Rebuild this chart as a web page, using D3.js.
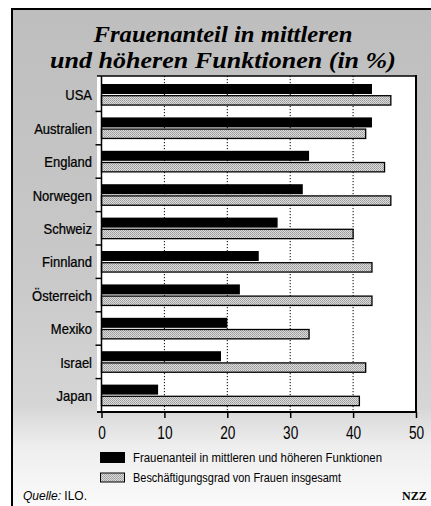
<!DOCTYPE html>
<html>
<head>
<meta charset="utf-8">
<script src="https://cdn.jsdelivr.net/npm/d3@7"></script>
<style>
html,body{margin:0;padding:0;background:#fff;}
svg{display:block;}
</style>
</head>
<body>
<svg id="chart" width="431" height="506"></svg>
<script>
const countries = ["USA","Australien","England","Norwegen","Schweiz","Finnland","Österreich","Mexiko","Israel","Japan"];
const fuehrung = [43,43,33,32,28,25,22,20,19,9];
const gesamt = [46,42,45,46,40,43,43,33,42,41];
const xTicks = [0,10,20,30,40,50];
const titleLines = ["Frauenanteil in mittleren","und höheren Funktionen (in %)"];
const legendLabels = ["Frauenanteil in mittleren und höheren Funktionen","Beschäftigungsgrad von Frauen insgesamt"];

const svg = d3.select("#chart");
const sans = "'Liberation Sans',Arial,Helvetica,sans-serif";
const serif = "'Liberation Serif','Times New Roman',serif";

const defs = svg.append("defs");
const grad = defs.append("linearGradient").attr("id","bg").attr("x1",0).attr("y1",0).attr("x2",0).attr("y2",1);
[[0,"#bebebe"],[0.55,"#c9c9c9"],[0.8,"#d6d6d6"],[0.88,"#eeeeee"],[1,"#fafafa"]].forEach(s=>grad.append("stop").attr("offset",s[0]).attr("stop-color",s[1]));
const pat = defs.append("pattern").attr("id","dots").attr("width",2).attr("height",2).attr("patternUnits","userSpaceOnUse");
pat.append("rect").attr("width",2).attr("height",2).attr("fill","#dcdcdc");
pat.append("rect").attr("width",1).attr("height",1).attr("fill","#9a9a9a");
pat.append("rect").attr("x",1).attr("y",1).attr("width",1).attr("height",1).attr("fill","#a8a8a8");

// background and frame
svg.append("rect").attr("x",12).attr("y",9).attr("width",419).attr("height",497).attr("fill","url(#bg)");
svg.append("line").attr("x1",12).attr("x2",12).attr("y1",8).attr("y2",506).attr("stroke","#000").attr("stroke-width",2);
svg.append("line").attr("x1",11).attr("x2",431).attr("y1",9).attr("y2",9).attr("stroke","#000").attr("stroke-width",2);

// title
const titleWidths = [259,346];
svg.append("g").selectAll("text").data(titleLines).join("text")
  .attr("text-anchor","middle")
  .attr("font-family",serif).attr("font-weight","bold").attr("font-style","italic").attr("font-size",23.5)
  .attr("textLength",(d,i)=>titleWidths[i]).attr("lengthAdjust","spacingAndGlyphs")
  .attr("x",223).attr("y",(d,i)=>42+i*26).text(d=>d);

// scales
const x = d3.scaleLinear().domain([0,50]).range([101.5,416]);
const y = d3.scaleBand().domain(countries).range([78,412]).paddingInner(0).paddingOuter(0);
const bw = y.bandwidth();

// plot area
svg.append("rect").attr("x",97).attr("y",76).attr("width",x(50)-97).attr("height",412-76).attr("fill","#fff");

// gridlines
svg.append("g").selectAll("line").data(xTicks.filter(d=>d>0&&d<50)).join("line")
  .attr("x1",d=>x(d)).attr("x2",d=>x(d)).attr("y1",76).attr("y2",412)
  .attr("stroke","#000").attr("stroke-width",1).attr("stroke-dasharray","1.2,1.8");

// bars
const rows = countries.map((c,i)=>({c, a:fuehrung[i], b:gesamt[i]}));
svg.append("g").selectAll("rect").data(rows).join("rect")
  .attr("x",x(0)).attr("y",d=>y(d.c)+bw*0.18).attr("width",d=>x(d.a)-x(0)).attr("height",bw*0.3)
  .attr("fill","#000");
svg.append("g").selectAll("rect").data(rows).join("rect")
  .attr("x",x(0)).attr("y",d=>y(d.c)+bw*0.53).attr("width",d=>x(d.b)-x(0)).attr("height",bw*0.28)
  .attr("fill","url(#dots)").attr("stroke","#000").attr("stroke-width",1.3);

// frame lines of plot
svg.append("line").attr("x1",97).attr("x2",x(50)+1).attr("y1",76).attr("y2",76).attr("stroke","#000").attr("stroke-width",1.5);
svg.append("line").attr("x1",x(50)).attr("x2",x(50)).attr("y1",75).attr("y2",412).attr("stroke","#000").attr("stroke-width",2);

// x axis
const xAxis = d3.axisBottom(x).tickValues(xTicks).tickSize(6).tickPadding(6).tickFormat(d3.format("d"));
const gx = svg.append("g").attr("transform","translate(0,412)").call(xAxis);
gx.select(".domain").attr("d",`M97,0H${x(50)+1}`).attr("stroke","#000").attr("stroke-width",2);
gx.selectAll(".tick line").attr("stroke","#000").attr("stroke-width",1.5);
gx.selectAll("text").attr("font-family",sans).attr("font-size",19).attr("fill","#000")
  .attr("y",0).attr("dy",27).attr("transform","scale(0.72,1)");

// y axis
const yAxis = d3.axisLeft(y).tickSize(0).tickPadding(9);
const gy = svg.append("g").attr("transform",`translate(${x(0)},0)`).call(yAxis);
gy.select(".domain").attr("d","M0,76V413").attr("stroke","#000").attr("stroke-width",1.5);
gy.selectAll("text").attr("font-family",sans).attr("font-size",14).attr("fill","#000")
  .attr("x",-9.5/0.93).attr("dy","0.4em").attr("transform","scale(0.93,1)")
  .attr("stroke","#000").attr("stroke-width",0.25);
// band boundary ticks
svg.append("g").selectAll("line").data(countries.slice(1)).join("line")
  .attr("x1",x(0)-6).attr("x2",x(0)).attr("y1",d=>y(d)).attr("y2",d=>y(d))
  .attr("stroke","#000").attr("stroke-width",1.5);

// legend
const lg = svg.append("g");
lg.append("rect").attr("x",100).attr("y",452).attr("width",25).attr("height",11).attr("fill","#000");
lg.append("rect").attr("x",100.5).attr("y",473).attr("width",24).attr("height",9).attr("fill","url(#dots)").attr("stroke","#000").attr("stroke-width",1);
const legendWidths = [249,208];
lg.selectAll("text").data(legendLabels).join("text")
  .attr("x",133).attr("y",(d,i)=>462+i*20)
  .attr("font-family",sans).attr("font-size",12.5).attr("fill","#000")
  .attr("textLength",(d,i)=>legendWidths[i]).attr("lengthAdjust","spacingAndGlyphs").text(d=>d);

// footer
svg.append("text").attr("x",23).attr("y",500).attr("font-family",sans).attr("font-size",12).attr("fill","#000")
  .html('<tspan font-style="italic">Quelle:</tspan> ILO.');
svg.append("text").attr("x",402).attr("y",500)
  .attr("font-family",serif).attr("font-weight","bold").attr("font-size",12).attr("fill","#000").text("NZZ");
</script>
</body>
</html>
